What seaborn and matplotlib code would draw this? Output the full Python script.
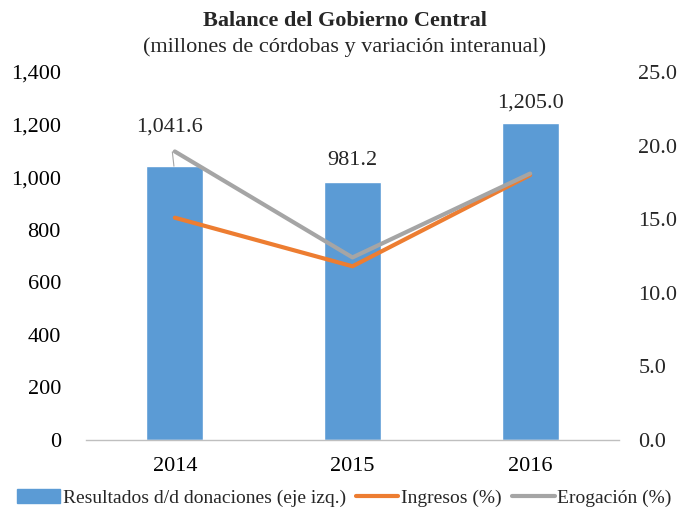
import matplotlib
matplotlib.use("Agg")
import matplotlib.pyplot as plt
import seaborn as sns
import pandas as pd
import numpy as np
from matplotlib.ticker import FuncFormatter, MultipleLocator
from matplotlib.patches import Patch
from matplotlib.lines import Line2D

years = ["2014", "2015", "2016"]
resultados = [1041.6, 981.2, 1205.0]
ingresos = [15.1, 11.8, 18.0]
erogacion = [19.6, 12.4, 18.1]
bar_labels = ["1,041.6", "981.2", "1,205.0"]

sns.set_style("white")
plt.rcParams["font.family"] = ["Liberation Serif", "DejaVu Serif"]

BLUE = "#5B9BD5"
ORANGE = "#ED7D31"
GRAY = "#A5A5A5"
FS = 16

fig = plt.figure(figsize=(6.89, 5.14), dpi=100)
ax = fig.add_axes([0.1248, 0.144, 0.7736, 0.716])

df = pd.DataFrame({"year": years, "res": resultados, "ing": ingresos, "ero": erogacion})
df["pos"] = np.arange(len(years))

sns.barplot(data=df, x="year", y="res", color=BLUE, width=0.32, saturation=1, ax=ax)
ax.set_ylim(0, 1400)
ax.set_xlim(-0.5, 2.5)
ax.yaxis.set_major_locator(MultipleLocator(200))
ax.yaxis.set_major_formatter(FuncFormatter(lambda v, p: f"{v:,.0f}"))
ax.set_xlabel("")
ax.set_ylabel("")
for s in ["top", "right", "left"]:
    ax.spines[s].set_visible(False)
ax.spines["bottom"].set_color("#BFBFBF")
ax.spines["bottom"].set_linewidth(1.0)
ax.tick_params(axis="both", labelsize=FS, length=0, colors="#000000")
ax.tick_params(axis="y", pad=18)
ax.tick_params(axis="x", pad=12)

ax2 = ax.twinx()
sns.lineplot(data=df, x="pos", y="ing", color=ORANGE, linewidth=3, ax=ax2)
sns.lineplot(data=df, x="pos", y="ero", color=GRAY, linewidth=3, ax=ax2)
ax2.set_ylim(0, 25)
ax2.set_xlim(-0.5, 2.5)
ax2.yaxis.set_major_locator(MultipleLocator(5))
ax2.yaxis.set_major_formatter(FuncFormatter(lambda v, p: f"{v:.1f}"))
ax2.set_ylabel("")
ax2.set_xlabel("")
for s in ["top", "right", "left", "bottom"]:
    ax2.spines[s].set_visible(False)
ax2.tick_params(axis="y", labelsize=FS, length=0, pad=14)

# bar data labels
ax.annotate(bar_labels[0], xy=(0 - 0.005, resultados[0]), xytext=(-0.03, 1192),
            ha="center", va="center", fontsize=FS,
            arrowprops=dict(arrowstyle="-", color="#A5A5A5", lw=0.8, shrinkA=9, shrinkB=0))
ax.text(1, resultados[1] + 82, bar_labels[1], ha="center", va="center", fontsize=FS)
ax.text(2, resultados[2] + 78, bar_labels[2], ha="center", va="center", fontsize=FS)

fig.text(0.5, 0.960, "Balance del Gobierno Central", ha="center", va="center",
         fontsize=FS, fontweight="bold")
fig.text(0.5, 0.908, "(millones de córdobas y variación interanual)", ha="center",
         va="center", fontsize=FS)

handles = [Patch(facecolor=BLUE, edgecolor=BLUE),
           Line2D([0], [0], color=ORANGE, lw=3),
           Line2D([0], [0], color=GRAY, lw=3)]
labels = ["Resultados d/d donaciones (eje izq.)", "Ingresos (%)", "Erogación (%)"]
fig.legend(handles, labels, loc="center", bbox_to_anchor=(0.5, 0.031), ncol=3,
           frameon=False, fontsize=14, handlelength=2.2, handletextpad=0.15,
           columnspacing=0.5, borderaxespad=0)

fig.savefig("out.png", dpi=100)
